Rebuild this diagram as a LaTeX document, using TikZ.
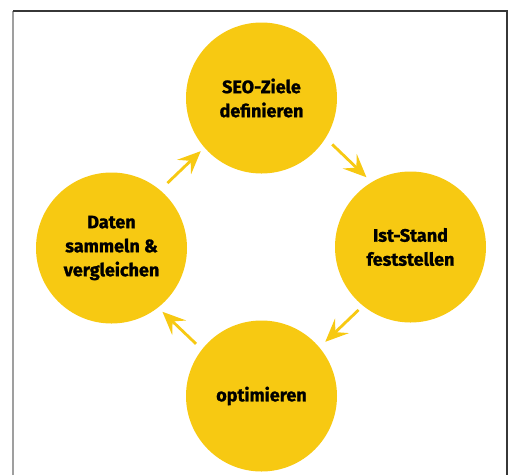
\documentclass[tikz,border=0pt]{standalone}
\usepackage{fontspec}
\setmainfont{Fira Sans}[BoldFeatures={FakeBold=1.2}]
\usetikzlibrary{arrows.meta}
\definecolor{seoyellow}{RGB}{247,201,18}
\definecolor{framegray}{RGB}{55,55,55}

\begin{document}
\begin{tikzpicture}[x=1pt, y=-1pt,
    >={Stealth[length=23pt, width=20pt, inset=9pt]},
    phase/.style={circle, fill=seoyellow, minimum size=151pt, inner sep=0pt,
        align=center, font=\bfseries\fontsize{18}{24}\selectfont},
    cyclearrow/.style={->, draw=seoyellow, fill=seoyellow, line width=2.8pt}]
    \useasboundingbox (0,0) rectangle (509,475);

    % Frame
    \draw[gray!75, line width=1.5pt] (13,475) -- (13,11);
    \draw[framegray, line width=1.5pt] (13,11) -- (507,11) -- (507,475);

    % Phases
    \node[phase] (ziele) at (261.5,98) {SEO-Ziele\\definieren};
    \node[phase] (stand) at (410.5,247) {Ist-Stand\\feststellen};
    \node[phase] (optim) at (261.5,396) {optimieren};
    \node[phase] (daten) at (111.5,248) {Daten\\sammeln \&\\vergleichen};

    % Cycle
    \draw[cyclearrow, shorten <=9pt, shorten >=7pt] (ziele.-32) -- (stand.121);
    \draw[cyclearrow, shorten <=6pt, shorten >=8pt] (stand.-129) -- (optim.40);
    \draw[cyclearrow, shorten <=8pt, shorten >=6pt] (optim.142) -- (daten.-52);
    \draw[cyclearrow, shorten <=10pt, shorten >=5pt] (daten.50) -- (ziele.-139);
\end{tikzpicture}
\end{document}
